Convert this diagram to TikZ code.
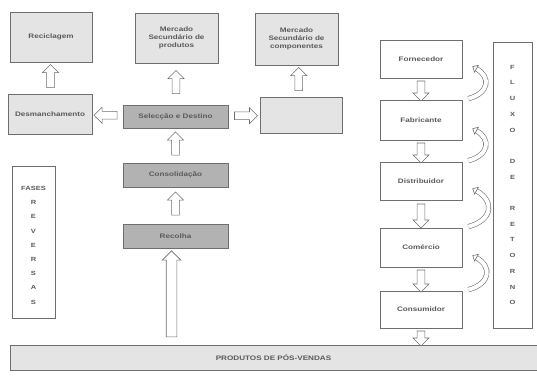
\documentclass[tikz,border=0pt]{standalone}
\usepackage{fontspec}
\setsansfont[FakeStretch=1.25]{Liberation Sans}
\usetikzlibrary{shapes.arrows, arrows.meta, calc, positioning}
\definecolor{boxline}{RGB}{110,110,110}
\definecolor{lightbox}{RGB}{228,228,228}
\definecolor{darkbox}{RGB}{178,178,178}
\definecolor{txtgray}{RGB}{90,90,90}

\begin{document}
\begin{tikzpicture}[x=1pt, y=-1pt,
  every node/.style={font=\sffamily\bfseries\fontsize{6.5}{8}\selectfont, text=txtgray},
  pbox/.style={draw=boxline, line width=0.7pt, fill=lightbox, align=center, inner sep=1pt},
  dbox/.style={pbox, fill=darkbox},
  wbox/.style={pbox, fill=white},
  blk/.style={single arrow, draw=boxline, fill=white, line width=0.6pt, inner sep=3.5pt,
    minimum width=16pt, single arrow head extend=4pt, minimum height=23pt},
  upblk/.style={blk, shape border rotate=90},
  dnblk/.style={blk, shape border rotate=270},
  lfblk/.style={blk, shape border rotate=180},
  rtblk/.style={blk, shape border rotate=0},
  back/.style={draw=boxline, line width=0.6pt, double=white, double distance=4pt,
    -{Triangle[open, length=5pt, width=9pt]}, out=15, in=-30, looseness=1.7}
]
\useasboundingbox (0,0) rectangle (537,378);

% fases reversas
\node[pbox, minimum width=82pt, minimum height=50pt] (recic) at (51,37) {Reciclagem};
\node[pbox, minimum width=83pt, minimum height=50pt] (mprod) at (176.5,38) {Mercado\\Secundário de\\produtos};
\node[pbox, minimum width=83pt, minimum height=52pt] (mcomp) at (296.5,39) {Mercado\\Secundário de\\componentes};
\node[pbox, minimum width=84pt, minimum height=40pt] (desm) at (50,114) {Desmanchamento};
\node[dbox, minimum width=105pt, minimum height=23pt] (selec) at (175.5,116.5) {Selecção e Destino};
\node[pbox, minimum width=82pt, minimum height=36pt] (vazio) at (301,115) {};
\node[dbox, minimum width=105pt, minimum height=24pt] (consol) at (175.5,175) {Consolidação};
\node[dbox, minimum width=105pt, minimum height=24pt] (recolha) at (175.5,236) {Recolha};
\node[wbox, minimum width=43pt, minimum height=152pt, anchor=north, inner sep=0pt,
  font=\sffamily\bfseries\fontsize{6}{14.2}\selectfont] (fases) at (33.5,166)
  {\strut FASES\\R\\E\\V\\E\\R\\S\\A\\S};
\node[pbox, minimum width=527pt, minimum height=25pt] (produtos) at (273.5,357.5)
  {PRODUTOS DE PÓS-VENDAS};

% cadeia direta
\node[wbox, minimum width=82pt, minimum height=38pt] (forn) at (421,59) {Fornecedor};
\node[wbox, minimum width=82pt, minimum height=40pt] (fabr) at (421,120) {Fabricante};
\node[wbox, minimum width=82pt, minimum height=38pt] (distr) at (421,181) {Distribuidor};
\node[wbox, minimum width=82pt, minimum height=39pt] (comer) at (421,247.5) {Comércio};
\node[wbox, minimum width=82pt, minimum height=37pt] (consum) at (421,309.5) {Consumidor};
\node[wbox, minimum width=39pt, minimum height=286pt, inner sep=0pt,
  font=\sffamily\bfseries\fontsize{6}{15.7}\selectfont] (fluxo) at (512.5,185)
  {F\\L\\U\\X\\O\\ \\D\\E\\ \\R\\E\\T\\O\\R\\N\\O};

% setas das fases
\path (desm.north) -- node[upblk] {} (recic.south);
\path (selec.north) -- node[upblk] {} (mprod.south);
\path (vazio.north) -- node[upblk] {} (mcomp.south);
\path (selec.west) -- node[lfblk] {} (desm.east);
\path (selec.east) -- node[rtblk] {} (vazio.west);
\path (consol.north) -- node[upblk] {} (selec.south);
\path (recolha.north) -- node[upblk] {} (consol.south);
\path ([xshift=-4pt]recolha.south) -- node[upblk, inner sep=5pt, minimum width=18pt,
  minimum height=86pt] {} ([xshift=-4pt]recolha.south |- produtos.north);

% setas da cadeia
\path (forn.south) -- node[dnblk, minimum height=20pt] {} (fabr.north);
\path (fabr.south) -- node[dnblk, minimum height=20pt] {} (distr.north);
\path (distr.south) -- node[dnblk, minimum height=24pt] {} (comer.north);
\path (comer.south) -- node[dnblk, minimum height=22pt] {} (consum.north);
\path (consum.south) -- node[dnblk, minimum height=15pt] {} (consum.south |- produtos.north);

% retorno
\draw[back] ($(fabr.north east)+(6,-1)$) to ($(forn.south east)+(10,-12)$);
\draw[back] ($(distr.north east)+(6,-1)$) to ($(fabr.south east)+(10,-12)$);
\draw[back] ($(comer.north east)+(6,-1)$) to ($(distr.south east)+(10,-12)$);
\draw[back] ($(consum.north east)+(6,-1)$) to ($(comer.south east)+(10,-12)$);
\end{tikzpicture}
\end{document}
